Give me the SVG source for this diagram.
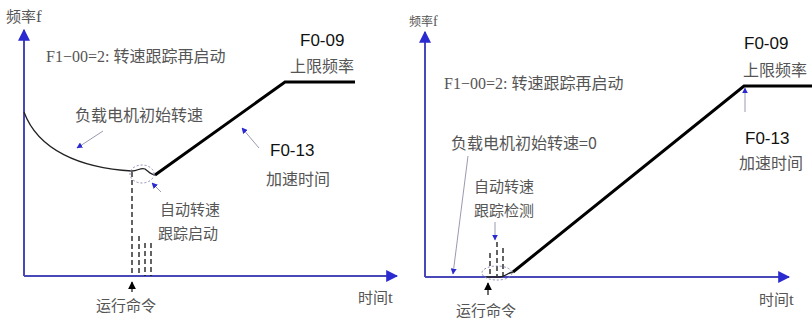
<svg xmlns="http://www.w3.org/2000/svg" width="812" height="320" viewBox="0 0 812 320">
<defs>
<style>
.cn{font-family:"Noto Sans CJK SC","Liberation Sans",sans-serif;fill:#555;font-size:15px}
.cnS{font-family:"Noto Sans CJK SC","Liberation Sans",sans-serif;fill:#555;font-size:12px}
.ser{font-family:"Liberation Serif","Noto Sans CJK SC",serif;fill:#555;font-size:16px}
.lat{font-family:"Liberation Sans",sans-serif;fill:#111;font-size:17px}
.axis{stroke:#4848b8;stroke-width:2;fill:none}
.thick{stroke:#000;stroke-width:3;fill:none}
.thin{stroke:#222;stroke-width:1.3;fill:none}
.dash{stroke:#111;stroke-width:1.3;stroke-dasharray:5 3;fill:none}
.ptr{stroke:#9a9ab0;stroke-width:1;fill:none}
.ell{stroke:#8a8ab8;stroke-width:1;stroke-dasharray:2 2;fill:none}
.sl{font-family:"Liberation Serif",serif}
</style>
<marker id="ab" viewBox="0 0 10 10" refX="9" refY="5" markerWidth="6" markerHeight="6" orient="auto"><path d="M0,0L10,5L0,10z" fill="#2a2ad0"/></marker>
<marker id="ak" viewBox="0 0 10 10" refX="9" refY="5" markerWidth="6" markerHeight="6" orient="auto"><path d="M0,0L10,5L0,10z" fill="#000"/></marker>
</defs>
<rect width="812" height="320" fill="#fff"/>
<g id="connectors">
<path class="axis" d="M24,276V30" marker-end="url(#ab)"/>
<path class="axis" d="M24,276H397" marker-end="url(#ab)"/>
<path class="thin" d="M24,112C38,150 80,168 132,171C138,171 141,167 145,169C149,172 151,175 155,175"/>
<path class="thick" d="M155,175L285,82H355"/>
<path class="dash" d="M132,172V276"/>
<path class="dash" d="M139,236V276"/>
<path class="dash" d="M145,243V276"/>
<path class="dash" d="M151,243V276"/>
<ellipse class="ell" cx="142" cy="174" rx="12" ry="9"/>
<path class="ptr" d="M103,131L77,148" marker-end="url(#ab)"/>
<path class="ptr" d="M259,148L242,128" marker-end="url(#ab)"/>
<path class="ptr" d="M161,192L152,183" marker-end="url(#ab)"/>
<path class="thin" d="M132,292V282" marker-end="url(#ak)"/>
<path class="axis" d="M425,277V32" marker-end="url(#ab)"/>
<path class="axis" d="M425,277H789" marker-end="url(#ab)"/>
<path class="thick" d="M513,272L744,86H812"/>
<path class="thin" d="M486,277H500C505,277 507,273 513,272"/>
<path class="dash" d="M490,253V276"/>
<path class="dash" d="M497,242V276"/>
<path class="dash" d="M503,248V276"/>
<ellipse class="ell" cx="497" cy="273" rx="15" ry="7"/>
<path class="ptr" d="M745,112V88" marker-end="url(#ab)"/>
<path class="ptr" d="M468,156L453,274" marker-end="url(#ab)"/>
<path class="ptr" d="M495,222V240" marker-end="url(#ab)"/>
<path class="thin" d="M488,295V283" marker-end="url(#ak)"/>
</g>
<g id="left-labels">
<text class="cn" x="6" y="22">频率<tspan class="sl" font-size="17">f</tspan></text>
<text class="ser" x="46" y="62">F1−00=2: <tspan class="cn" style="font-size:16px">转速跟踪再启动</tspan></text>
<text class="lat" x="300" y="46">F0-09</text>
<text class="cn" x="290" y="72" style="font-size:16px">上限频率</text>
<text class="cn" x="75" y="121" style="font-size:16px">负载电机初始转速</text>
<text class="lat" x="270" y="156">F0-13</text>
<text class="cn" x="266" y="185" style="font-size:16px">加速时间</text>
<text class="cn" x="160" y="215">自动转速</text>
<text class="cn" x="158" y="239">跟踪启动</text>
<text class="cn" x="96" y="311">运行命令</text>
<text class="cn" x="358" y="303">时间<tspan class="sl" font-size="17">t</tspan></text>
</g>
<g id="right-labels">
<text class="cnS" x="409" y="26">频率<tspan class="sl" font-size="14">f</tspan></text>
<text class="ser" x="444" y="89">F1−00=2: <tspan class="cn" style="font-size:16px">转速跟踪再启动</tspan></text>
<text class="lat" x="744" y="49">F0-09</text>
<text class="cn" x="743" y="76" style="font-size:16px">上限频率</text>
<text class="lat" x="745" y="144">F0-13</text>
<text class="cn" x="739" y="169" style="font-size:16px">加速时间</text>
<text class="cn" x="451" y="149" style="font-size:16px">负载电机初始转速=0</text>
<text class="cn" x="474" y="192">自动转速</text>
<text class="cn" x="474" y="216">跟踪检测</text>
<text class="cn" x="456" y="316">运行命令</text>
<text class="cn" x="759" y="305">时间<tspan class="sl" font-size="17">t</tspan></text>
</g>
</svg>
